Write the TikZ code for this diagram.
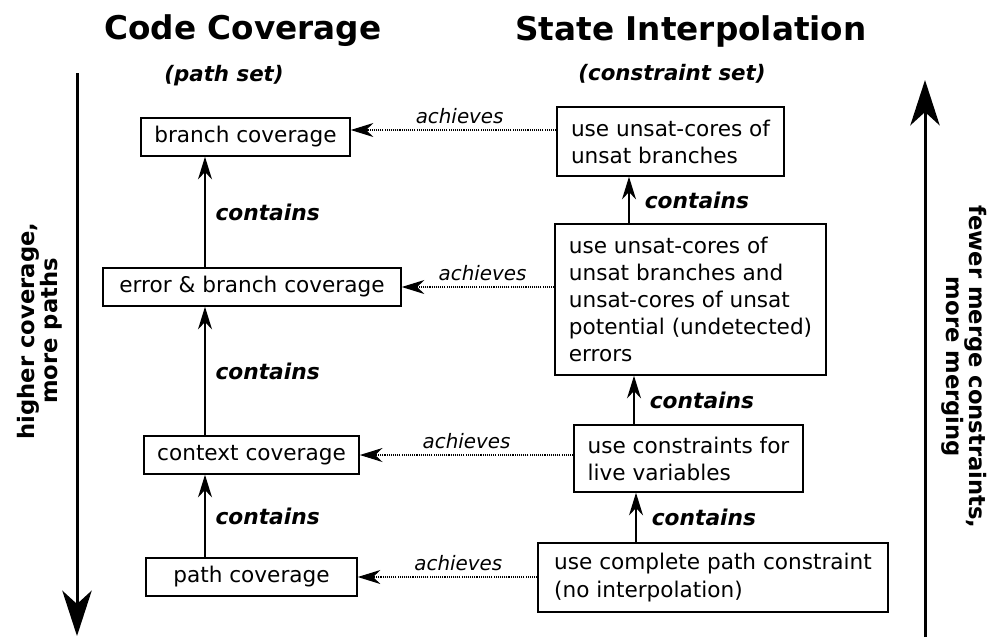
\documentclass[tikz,border=0pt]{standalone}
\usepackage{fontspec}
\setmainfont{DejaVu Sans}
\usetikzlibrary{arrows.meta, positioning, calc}
\tikzset{
  arrowC/.style={-{Stealth[length=17pt, width=10.5pt, inset=5.5pt]}, line width=1.1pt},
  arrowA/.style={-{Stealth[length=17pt, width=10.5pt, inset=5.5pt]}, line width=0.8pt,
                 dash pattern=on 0.8pt off 0.8pt},
  arrowB/.style={-{Stealth[length=34pt, width=22pt, inset=10pt]}, line width=2.25pt},
  boxA/.style={rectangle, draw, line width=1.1pt, align=left, inner xsep=10pt,
               inner ysep=0pt, font=\fontsize{16.2}{20.3}\selectfont},
  lblC/.style={font=\fontsize{16.3}{19}\selectfont\bfseries\itshape},
  lblA/.style={font=\fontsize{14.9}{18}\selectfont\itshape},
  head/.style={font=\fontsize{24.5}{28}\selectfont\bfseries},
  subhead/.style={font=\fontsize{16}{19}\selectfont\bfseries\itshape},
  side/.style={align=center, font=\fontsize{17}{16}\selectfont\bfseries},
}
\begin{document}
\begin{tikzpicture}[x=0.75pt, y=-0.75pt]
    \useasboundingbox (0,0) rectangle (988,637);
    % headings
    \node[head] (tcc) at (243,31) {Code Coverage};
    \node[head] (tsi) at (691,31) {State Interpolation};
    \node[subhead] (pset) at (224,76) {(path set)};
    \node[subhead] (cset) at (672,74) {(constraint set)};
    % code coverage
    \node[boxA, minimum width=156.75pt, minimum height=28.5pt] (bc) at (245.5,137) {branch coverage};
    \node[boxA, minimum width=223.5pt, minimum height=28.5pt] (ebc) at (252,287) {error \& branch coverage};
    \node[boxA, minimum width=159.75pt, minimum height=28.5pt] (cc) at (251.5,455) {context coverage};
    \node[boxA, minimum width=158.25pt, minimum height=28.5pt] (pc) at (251.5,577) {path coverage};
    % state interpolation
    \node[boxA, minimum width=170.25pt, minimum height=51.75pt] (uuc) at (670.5,141.5)
      {use unsat-cores of\\unsat branches};
    \node[boxA, minimum width=203.25pt, minimum height=113.25pt] (uue) at (690.5,299.5)
      {use unsat-cores of\\unsat branches and\\unsat-cores of unsat\\potential (undetected)\\errors};
    \node[boxA, minimum width=171.75pt, minimum height=50.25pt] (clv) at (688.5,458.5)
      {use constraints for\\live variables};
    \node[boxA, minimum width=262.5pt, minimum height=51.75pt] (cpc) at (713,577.5)
      {use complete path constraint\\(no interpolation)};
    % contains
    \coordinate (xl) at (205,0);
    \coordinate (xr1) at (636,0);
    \coordinate (xr2) at (634,0);
    \coordinate (xr3) at (629,0);
    \draw[arrowC] (pc.north -| xl) -- node[lblC, right=4pt] {contains} (cc.south -| xl);
    \draw[arrowC] (cc.north -| xl) -- node[lblC, right=4pt] {contains} (ebc.south -| xl);
    \draw[arrowC] (ebc.north -| xl) -- node[lblC, right=4pt] {contains} (bc.south -| xl);
    \draw[arrowC] (cpc.north -| xr1) -- node[lblC, right=8pt] {contains} (clv.south -| xr1);
    \draw[arrowC] (clv.north -| xr2) -- node[lblC, right=8pt] {contains} (uue.south -| xr2);
    \draw[arrowC] (uue.north -| xr3) -- node[lblC, right=8pt] {contains} (uuc.south -| xr3);
    % achieves
    \coordinate (a1) at ($(bc.east)+(0,-7)$);
    \draw[arrowA] (uuc.west |- a1) -- node[lblA, pos=0.47, above=1pt] {achieves} (a1);
    \draw[arrowA] (uue.west |- ebc.east) -- node[lblA, pos=0.47, above=1pt] {achieves} (ebc.east);
    \draw[arrowA] (clv.west |- cc.east) -- node[lblA, above=1pt] {achieves} (cc.east);
    \draw[arrowA] (cpc.west |- pc.east) -- node[lblA, pos=0.44, above=1pt] {achieves} (pc.east);
    % side arrows
    \coordinate (lt) at (77,73);
    \coordinate (lb) at (77,636);
    \coordinate (rb) at (925,637);
    \coordinate (rt) at (925,80);
    \draw[arrowB] (lt) -- (lb);
    \draw[arrowB] (rb) -- (rt);
    \node[side, rotate=90] (lside) at (40,331) {higher coverage,\\more paths};
    \node[side, rotate=-90] (rside) at (964,367) {fewer merge constraints,\\more merging};
  \end{tikzpicture}
\end{document}
